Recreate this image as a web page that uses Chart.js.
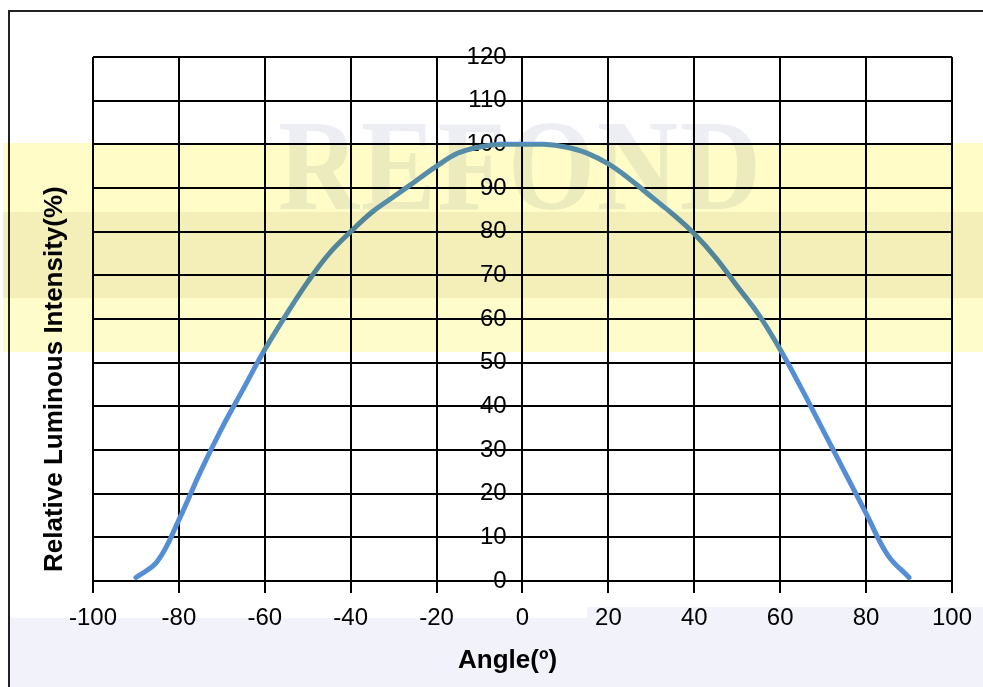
<!DOCTYPE html>
<html>
<head>
<meta charset="utf-8">
<script src="https://cdn.jsdelivr.net/npm/chart.js@4.4.1/dist/chart.umd.min.js"></script>
<style>
html,body{margin:0;padding:0;background:#fff;}
#wrap{position:relative;width:983px;height:687px;overflow:hidden;background:#fff;}
#frame{position:absolute;left:8px;top:10px;width:990px;height:700px;border-left:2px solid #222;border-top:2px solid #222;}
.lav{position:absolute;background:#f2f2fa;}
#mark{position:absolute;left:278px;top:92px;font:bold 112px "Liberation Serif",serif;color:#eceef3;letter-spacing:2px;transform:scaleY(1.15);transform-origin:0 0;}
#c{position:absolute;left:0;top:0;}
.band{position:absolute;left:3px;width:980px;mix-blend-mode:multiply;}
#ytitle{position:absolute;left:40px;top:572px;font:bold 26px "Liberation Sans",Arial,sans-serif;line-height:26px;white-space:nowrap;transform:rotate(-90deg);transform-origin:0 0;color:#000;}
#xtitle{position:absolute;left:458px;top:644px;font:bold 26px "Liberation Sans",Arial,sans-serif;line-height:30px;white-space:nowrap;color:#000;}
</style>
</head>
<body>
<div id="wrap">
<div class="lav" style="left:10px;top:618px;width:980px;height:80px"></div>
<div class="lav" style="left:587px;top:607px;width:400px;height:20px"></div>
<div id="mark">REFOND</div>
<div id="frame"></div>
<canvas id="c" width="983" height="687"></canvas>
<div id="ytitle">Relative Luminous Intensity(%)</div>
<div id="xtitle">Angle(º)</div>
<div class="band" style="top:143px;height:69px;background:#fffcc8"></div>
<div class="band" style="top:212px;height:86px;background:#f4eeb8"></div>
<div class="band" style="top:298px;height:54px;background:#fffccc"></div>
</div>
<script>
// angle (deg) vs relative luminous intensity (%)
const angles=[-90,-85,-80,-75,-70,-65,-60,-55,-50,-45,-40,-35,-30,-25,-20,-15,-10,-5,0,5,10,15,20,25,30,35,40,45,50,55,60,65,70,75,80,85,90];
const intensity=[0.8,4.5,14,25,35,44,53,61,68.5,75,80,84.5,88,91.5,95,98,99.4,100,100,100,99.4,98,95.5,92,88,84,79.5,74,67.5,61,53,44,34.5,25,15.5,6,0.8];
const xTicks=[-100,100,20];
const yTicks=[0,120,10];

const pts=angles.map((a,i)=>({x:a,y:intensity[i]}));

new Chart(document.getElementById("c"),{
type:"scatter",
data:{datasets:[{
data:pts,
showLine:true,
borderColor:"#558ed5",
backgroundColor:"#558ed5",
borderWidth:5,
borderCapStyle:"round",
pointRadius:0,
tension:0.4
}]},
options:{
responsive:false,
animation:false,
layout:{padding:{left:93,right:30,top:57,bottom:0}},
plugins:{legend:{display:false},tooltip:{enabled:false}},
scales:{
x:{
type:"linear",
min:xTicks[0],max:xTicks[1],
ticks:{stepSize:xTicks[2],color:"#000",padding:11,font:{family:"Liberation Sans",size:24}},
grid:{color:"#000",lineWidth:2,tickLength:12},
border:{color:"#000",width:2},
afterFit:s=>{s.height=106;}
},
y:{
// labels sit a little left of the zero line
position:{x:-3.7},
min:yTicks[0],max:yTicks[1],
ticks:{stepSize:yTicks[2],color:"#000",font:{family:"Liberation Sans",size:24}},
grid:{color:"#000",lineWidth:2,drawTicks:false},
border:{display:false}
}
}
}
});
</script>
</body>
</html>
